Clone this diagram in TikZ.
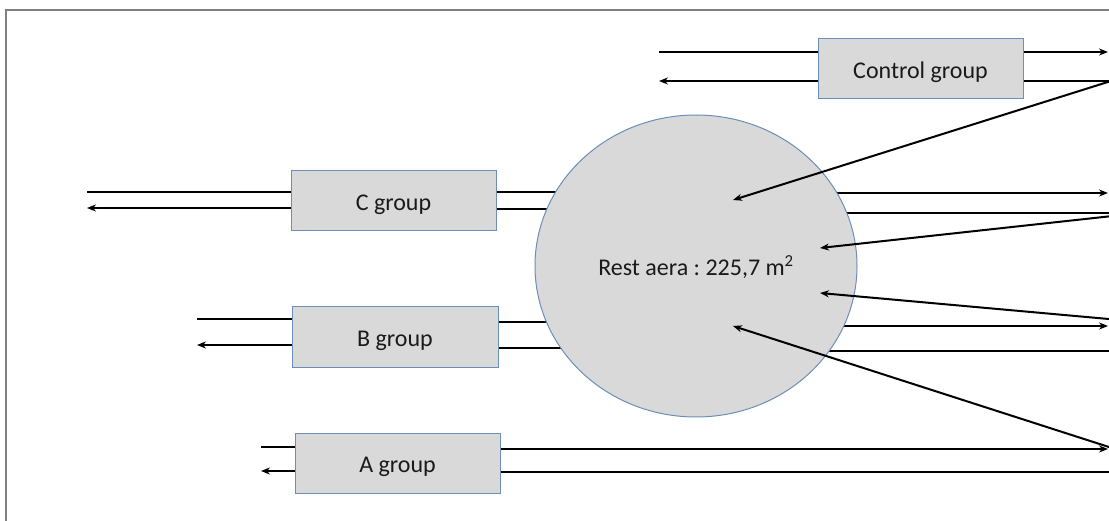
\documentclass[tikz,border=0pt]{standalone}
\usepackage{fontspec}
\setmainfont{Carlito}
\usetikzlibrary{arrows.meta,shapes.geometric,backgrounds}
\definecolor{boxfill}{HTML}{D9D9D9}
\definecolor{boxline}{HTML}{6D8EB8}
\definecolor{framegray}{HTML}{808080}
\definecolor{txt}{HTML}{1A1A1A}
\frenchspacing
\begin{document}
\begin{tikzpicture}[x=1pt,y=-1pt,
  grp/.style={draw=boxline,line width=1pt,fill=boxfill,minimum width=205pt,minimum height=60pt,inner sep=0pt,text height=18.5pt,text depth=0pt,font=\fontsize{24}{28}\selectfont,text=txt},
  area/.style={ellipse,draw=boxline,line width=1pt,fill=boxfill,minimum width=322pt,minimum height=302pt,inner sep=0pt,text height=18.5pt,text depth=0pt,font=\fontsize{24}{28}\selectfont,text=txt},
  flow/.style={line width=2pt,black},
  tip/.style={flow,-{Stealth[length=9pt,width=7pt]}}
]
\useasboundingbox (0,0) rectangle (1109,521);
% frame
\draw[framegray,line width=2pt] (6,522) |- (1112,10);
% nodes
\node[area] (rest) at (696,266) {Rest aera : 225,7 m\textsuperscript{2}};
\node[grp] (ctrl) at (920.5,69) {Control group};
\node[grp] (cg) at (393.5,201) {C group};
\node[grp,minimum width=206pt,minimum height=61pt] (bg) at (395,337.5) {B group};
\node[grp] (ag) at (397.5,463) {A group};
% free ends
\coordinate (ctrlInL) at (659,52);
\coordinate (ctrlOutL) at (659,81);
\coordinate (ctrlOutR) at (1108,52);
\coordinate (ctrlV) at (1111,81);
\coordinate (p1) at (733,200);
\coordinate (cInL) at (87,192);
\coordinate (cOutL) at (87,208);
\coordinate (cR1) at (0,192);
\coordinate (cR2) at (0,209);
\coordinate (bInL) at (197,319);
\coordinate (bOutL) at (197,345);
\coordinate (bR1) at (0,322);
\coordinate (bR2) at (0,348);
\coordinate (aInL) at (261,447);
\coordinate (aOutL) at (261,471);
\coordinate (aR1) at (1108,449);
\coordinate (aR2) at (1112,472);
\coordinate (r1) at (1108,193);
\coordinate (r2) at (1140,213);
\coordinate (p2) at (820,248);
\coordinate (r3v) at (1112,319.3);
\coordinate (p3) at (820,293);
\coordinate (r3) at (1108,326);
\coordinate (r4) at (1112,351);
\coordinate (r5v) at (1112,448);
\coordinate (p4) at (733,326);
% lines under the rest area
\begin{scope}[on background layer]
\draw[flow] (cg.east |- cR1) -- (rest.center |- cR1);
\draw[flow] (cg.east |- cR2) -- (rest.center |- cR2);
\draw[flow] (bg.east |- bR1) -- (rest.center |- bR1);
\draw[flow] (bg.east |- bR2) -- (rest.center |- bR2);
\draw[tip] (rest.center |- r1) -- (r1);
\draw[flow] (rest.center |- r2) -- (r2);
\draw[tip] (rest.center |- r3) -- (r3);
\draw[flow] (rest.center |- r4) -- (r4);
\end{scope}
% control group
\draw[flow] (ctrlInL) -- (ctrl.west |- ctrlInL);
\draw[tip] (ctrl.west |- ctrlOutL) -- (ctrlOutL);
\draw[tip] (ctrl.east |- ctrlOutR) -- (ctrlOutR);
\draw[flow] (ctrl.east |- ctrlV) -- (ctrlV);
\draw[tip] (ctrlV) -- (p1);
% C group
\draw[flow] (cInL) -- (cg.west |- cInL);
\draw[tip] (cg.west |- cOutL) -- (cOutL);
% B group
\draw[flow] (bInL) -- (bg.west |- bInL);
\draw[tip] (bg.west |- bOutL) -- (bOutL);
% A group
\draw[flow] (aInL) -- (ag.west |- aInL);
\draw[tip] (ag.west |- aOutL) -- (aOutL);
\draw[tip] (ag.east |- aR1) -- (aR1);
\draw[flow] (ag.east |- aR2) -- (aR2);
% returns into the rest area
\draw[tip] (r2) -- (p2);
\draw[tip] (r3v) -- (p3);
\draw[tip] (r5v) -- (p4);
\end{tikzpicture}
\end{document}
